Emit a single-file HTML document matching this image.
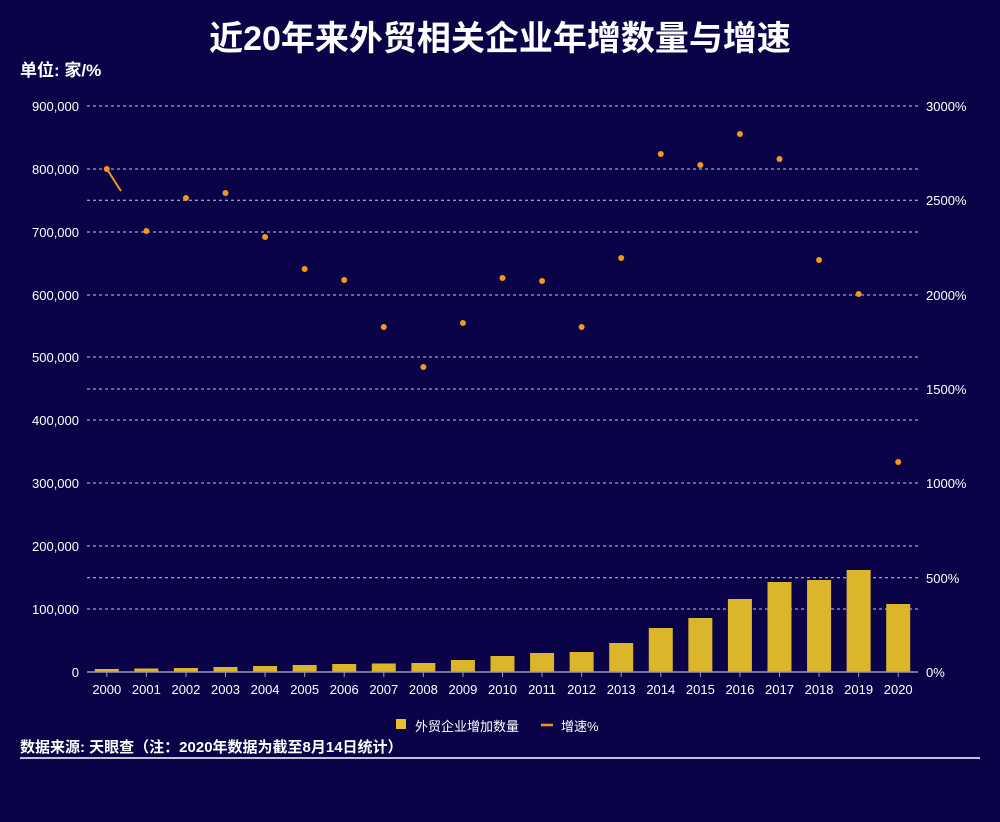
<!DOCTYPE html>
<html><head><meta charset="utf-8"><style>
html,body{margin:0;padding:0;background:#0a0348;}
svg{display:block;font-family:"Liberation Sans","Noto Sans CJK SC",sans-serif;}
</style></head><body>
<svg width="1000" height="822" viewBox="0 0 1000 822">
<rect width="1000" height="822" fill="#0a0348"/>
<text x="500" y="50" text-anchor="middle" font-size="34" font-weight="bold" fill="#fff">近20年来外贸相关企业年增数量与增速</text>
<text x="20" y="76" font-size="17" font-weight="bold" fill="#fff">单位: 家/%</text>
<g stroke="#c8c8e0" stroke-width="1" stroke-dasharray="3,3">
<line x1="87" x2="918" y1="106" y2="106"/><line x1="87" x2="918" y1="169" y2="169"/>
<line x1="87" x2="918" y1="200.3" y2="200.3"/><line x1="87" x2="918" y1="232" y2="232"/>
<line x1="87" x2="918" y1="295" y2="295"/><line x1="87" x2="918" y1="357" y2="357"/>
<line x1="87" x2="918" y1="389" y2="389"/><line x1="87" x2="918" y1="420" y2="420"/>
<line x1="87" x2="918" y1="483" y2="483"/><line x1="87" x2="918" y1="546" y2="546"/>
<line x1="87" x2="918" y1="577.7" y2="577.7"/><line x1="87" x2="918" y1="609" y2="609"/>
</g>
<g font-size="13" fill="#fff" text-anchor="end">
<text x="79" y="111">900,000</text><text x="79" y="174">800,000</text><text x="79" y="237">700,000</text>
<text x="79" y="300">600,000</text><text x="79" y="362">500,000</text><text x="79" y="425">400,000</text>
<text x="79" y="488">300,000</text><text x="79" y="551">200,000</text><text x="79" y="614">100,000</text>
<text x="79" y="677">0</text>
</g>
<g font-size="13" fill="#fff">
<text x="926" y="111">3000%</text><text x="926" y="205">2500%</text><text x="926" y="300">2000%</text>
<text x="926" y="394">1500%</text><text x="926" y="488">1000%</text><text x="926" y="583">500%</text>
<text x="926" y="677">0%</text>
</g>
<g fill="#dbb52a">
<rect x="94.8" y="669" width="24" height="3"/>
<rect x="134.37" y="668.5" width="24" height="3.5"/>
<rect x="173.94" y="668" width="24" height="4"/>
<rect x="213.51" y="667" width="24" height="5"/>
<rect x="253.08" y="666" width="24" height="6"/>
<rect x="292.65" y="665" width="24" height="7"/>
<rect x="332.22" y="664" width="24" height="8"/>
<rect x="371.79" y="663.5" width="24" height="8.5"/>
<rect x="411.36" y="663" width="24" height="9"/>
<rect x="450.93" y="660" width="24" height="12"/>
<rect x="490.5" y="656" width="24" height="16"/>
<rect x="530.07" y="653" width="24" height="19"/>
<rect x="569.64" y="652" width="24" height="20"/>
<rect x="609.21" y="643" width="24" height="29"/>
<rect x="648.78" y="628" width="24" height="44"/>
<rect x="688.35" y="618" width="24" height="54"/>
<rect x="727.92" y="599" width="24" height="73"/>
<rect x="767.49" y="582" width="24" height="90"/>
<rect x="807.06" y="580" width="24" height="92"/>
<rect x="846.63" y="570" width="24" height="102"/>
<rect x="886.2" y="604" width="24" height="68"/>
</g>
<line x1="87" x2="918" y1="672" y2="672" stroke="#9a98b8" stroke-width="1.5"/>
<g stroke="#9a98b8">
<line x1="106.8" x2="106.8" y1="672" y2="677"/><line x1="146.37" x2="146.37" y1="672" y2="677"/>
<line x1="185.94" x2="185.94" y1="672" y2="677"/><line x1="225.51" x2="225.51" y1="672" y2="677"/>
<line x1="265.08" x2="265.08" y1="672" y2="677"/><line x1="304.65" x2="304.65" y1="672" y2="677"/>
<line x1="344.22" x2="344.22" y1="672" y2="677"/><line x1="383.79" x2="383.79" y1="672" y2="677"/>
<line x1="423.36" x2="423.36" y1="672" y2="677"/><line x1="462.93" x2="462.93" y1="672" y2="677"/>
<line x1="502.5" x2="502.5" y1="672" y2="677"/><line x1="542.07" x2="542.07" y1="672" y2="677"/>
<line x1="581.64" x2="581.64" y1="672" y2="677"/><line x1="621.21" x2="621.21" y1="672" y2="677"/>
<line x1="660.78" x2="660.78" y1="672" y2="677"/><line x1="700.35" x2="700.35" y1="672" y2="677"/>
<line x1="739.92" x2="739.92" y1="672" y2="677"/><line x1="779.49" x2="779.49" y1="672" y2="677"/>
<line x1="819.06" x2="819.06" y1="672" y2="677"/><line x1="858.63" x2="858.63" y1="672" y2="677"/>
<line x1="898.2" x2="898.2" y1="672" y2="677"/>
</g>
<g font-size="13" fill="#fff" text-anchor="middle">
<text x="106.8" y="694">2000</text><text x="146.37" y="694">2001</text><text x="185.94" y="694">2002</text>
<text x="225.51" y="694">2003</text><text x="265.08" y="694">2004</text><text x="304.65" y="694">2005</text>
<text x="344.22" y="694">2006</text><text x="383.79" y="694">2007</text><text x="423.36" y="694">2008</text>
<text x="462.93" y="694">2009</text><text x="502.5" y="694">2010</text><text x="542.07" y="694">2011</text>
<text x="581.64" y="694">2012</text><text x="621.21" y="694">2013</text><text x="660.78" y="694">2014</text>
<text x="700.35" y="694">2015</text><text x="739.92" y="694">2016</text><text x="779.49" y="694">2017</text>
<text x="819.06" y="694">2018</text><text x="858.63" y="694">2019</text><text x="898.2" y="694">2020</text>
</g>
<polyline points="106.8,169 121,191" stroke="#f5961e" stroke-width="2" fill="none"/>
<g fill="#f5961e">
<circle cx="106.8" cy="169" r="3"/><circle cx="146.37" cy="231" r="3"/><circle cx="185.94" cy="198" r="3"/>
<circle cx="225.51" cy="193" r="3"/><circle cx="265.08" cy="237" r="3"/><circle cx="304.65" cy="269" r="3"/>
<circle cx="344.22" cy="280" r="3"/><circle cx="383.79" cy="327" r="3"/><circle cx="423.36" cy="367" r="3"/>
<circle cx="462.93" cy="323" r="3"/><circle cx="502.5" cy="278" r="3"/><circle cx="542.07" cy="281" r="3"/>
<circle cx="581.64" cy="327" r="3"/><circle cx="621.21" cy="258" r="3"/><circle cx="660.78" cy="154" r="3"/>
<circle cx="700.35" cy="165" r="3"/><circle cx="739.92" cy="134" r="3"/><circle cx="779.49" cy="159" r="3"/>
<circle cx="819.06" cy="260" r="3"/><circle cx="858.63" cy="294" r="3"/><circle cx="898.2" cy="462" r="3"/>
</g>
<rect x="396" y="719" width="10" height="10" fill="#e8c02a"/>
<text x="415" y="731" font-size="13" fill="#fff">外贸企业增加数量</text>
<line x1="541" x2="553" y1="725" y2="725" stroke="#f5961e" stroke-width="2.5"/>
<text x="561" y="731" font-size="13" fill="#fff">增速%</text>
<text x="20" y="752" font-size="15" font-weight="bold" fill="#fff">数据来源: 天眼查（注：2020年数据为截至8月14日统计）</text>
<line x1="20" x2="980" y1="758" y2="758" stroke="#fff" stroke-width="1.5"/>
</svg>
</body></html>
